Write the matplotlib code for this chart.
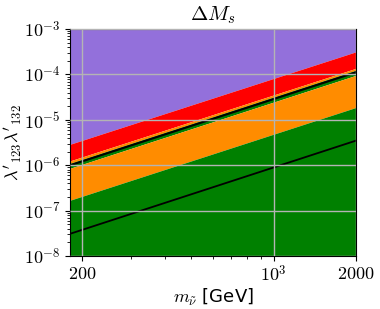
import numpy as np
import matplotlib
matplotlib.use('Agg')
import matplotlib.pyplot as plt

plt.rcParams['mathtext.fontset'] = 'cm'
plt.rcParams['font.family'] = 'DejaVu Sans'

# sneutrino mass range (GeV), boundaries read at both ends
m = [180, 2000]
purple_red = [2.9e-6, 3.16e-4]
red_orange = [1.25e-6, 1.37e-4]
green_top = [1.1e-6, 1.24e-4]
black_upper = [1.0e-6, 1.12e-4]
green_bottom = [8.6e-7, 9.6e-5]
orange_green = [1.7e-7, 1.88e-5]
black_lower = [3.1e-8, 3.5e-6]

ymin, ymax = 1e-8, 1e-3

fig = plt.figure(figsize=(3.8, 3.09), dpi=100)
ax = fig.add_axes([0.184, 0.171, 0.753, 0.735])

ax.fill_between(m, purple_red, ymax, color='mediumpurple', lw=0)
ax.fill_between(m, red_orange, purple_red, color='red', lw=0)
ax.fill_between(m, green_top, red_orange, color='darkorange', lw=0)
ax.fill_between(m, green_bottom, green_top, color='green', lw=0)
ax.fill_between(m, orange_green, green_bottom, color='darkorange', lw=0)
ax.fill_between(m, ymin, orange_green, color='green', lw=0)
ax.plot(m, black_upper, color='black', lw=1.5)
ax.plot(m, black_lower, color='black', lw=1.3)

ax.set_xscale('log')
ax.set_yscale('log')
ax.set_xlim(180, 2000)
ax.set_ylim(ymin, ymax)

ax.set_xticks([200, 1000, 2000])
ax.set_xticklabels(['$200$', '$10^3$', '$2000$'])
yt = [1e-8, 1e-7, 1e-6, 1e-5, 1e-4, 1e-3]
ax.set_yticks(yt)
ax.set_yticklabels(['$10^{-8}$', '$10^{-7}$', '$10^{-6}$', '$10^{-5}$', '$10^{-4}$', '$10^{-3}$'])
ax.tick_params(which='major', labelsize=13, length=3.5, pad=3)
ax.tick_params(which='minor', length=2)
ax.xaxis.set_minor_formatter(matplotlib.ticker.NullFormatter())

ax.grid(True, which='major', color='#b4b4b4', lw=1)
ax.set_axisbelow(False)

ax.set_xlabel(r'$m_{\tilde{\nu}}$ [GeV]', fontsize=13, labelpad=1)
ax.set_ylabel(r"$\lambda'_{123}\lambda'_{132}$", fontsize=13, labelpad=0)
ax.set_title(r'$\Delta M_s$', fontsize=15)

fig.savefig('out.png', dpi=100)
